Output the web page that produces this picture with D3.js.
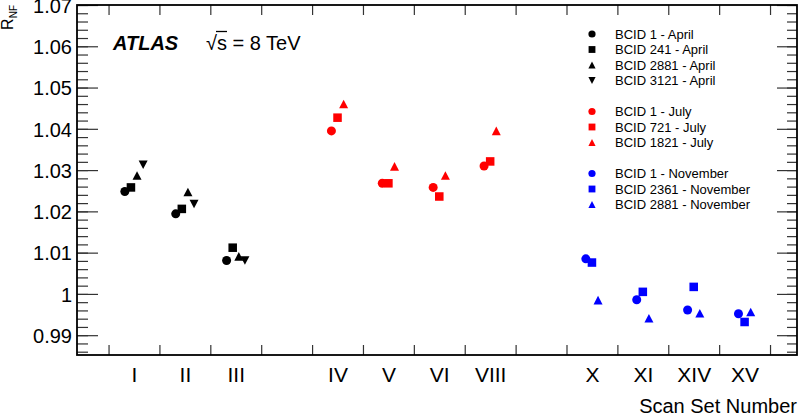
<!DOCTYPE html>
<html>
<head>
<meta charset="utf-8">
<script src="https://cdn.jsdelivr.net/npm/d3@7"></script>
<style>
  html, body { margin: 0; padding: 0; background: #fff; }
  svg text { font-family: "Liberation Sans", Arial, Helvetica, sans-serif; fill: #000; }
</style>
</head>
<body>
<div id="chart"></div>
<script>
"use strict";
// scan-set bins along x (empty strings are the gaps between the periods)
const scanSets = ["I", "II", "III", "", "IV", "V", "VI", "VIII", "", "X", "XI", "XIV", "XV"];
const aprilScans = ["I", "II", "III"];
const julyScans = ["IV", "V", "VI", "VIII"];
const novemberScans = ["X", "XI", "XIV", "XV"];

// R_NF per BCID
const bcid1April = [1.0248, 1.0194, 1.0081];
const bcid241April = [1.0258, 1.0206, 1.0112];
const bcid2881April = [1.0287, 1.0247, 1.0091];
const bcid3121April = [1.0313, 1.0218, 1.0081];

const bcid1July = [1.0395, 1.0268, 1.0258, 1.0310];
const bcid721July = [1.0427, 1.0268, 1.0236, 1.0321];
const bcid1821July = [1.0460, 1.0309, 1.0287, 1.0395];

const bcid1November = [1.0085, 0.9986, 0.9961, 0.9952];
const bcid2361November = [1.0076, 1.0005, 1.0017, 0.9932];
const bcid2881November = [0.9985, 0.9941, 0.9953, 0.9956];

const yTickValues = [0.99, 1.00, 1.01, 1.02, 1.03, 1.04, 1.05, 1.06, 1.07];

const aprilLabels = ["BCID 1 - April", "BCID 241 - April", "BCID 2881 - April", "BCID 3121 - April"];
const julyLabels = ["BCID 1 - July", "BCID 721 - July", "BCID 1821 - July"];
const novemberLabels = ["BCID 1 - November", "BCID 2361 - November", "BCID 2881 - November"];

const W = 803, H = 418;
const frame = { left: 77, right: 797, top: 5, bottom: 355 };
const font = "'Liberation Sans', Arial, Helvetica, sans-serif";

// ROOT-like markers, centred on their bounding box
const triUp = {
  draw(ctx, size) {
    const w = Math.sqrt(size) / 2, h = w * 0.95;
    ctx.moveTo(0, -h); ctx.lineTo(w, h); ctx.lineTo(-w, h); ctx.closePath();
  }
};
const triDown = {
  draw(ctx, size) {
    const w = Math.sqrt(size) / 2, h = w * 0.95;
    ctx.moveTo(0, h); ctx.lineTo(w, -h); ctx.lineTo(-w, -h); ctx.closePath();
  }
};
const shapes = {
  circle: { type: d3.symbolCircle, size: r => Math.PI * r * r / 4 },
  square: { type: d3.symbolSquare, size: r => r * r * 0.9 },
  up: { type: triUp, size: r => r * r },
  down: { type: triDown, size: r => r * r }
};

const periods = [
  { scans: aprilScans, color: "#000000", series: [
    { label: aprilLabels[0], values: bcid1April, shape: "circle" },
    { label: aprilLabels[1], values: bcid241April, shape: "square" },
    { label: aprilLabels[2], values: bcid2881April, shape: "up" },
    { label: aprilLabels[3], values: bcid3121April, shape: "down" }] },
  { scans: julyScans, color: "#ff0000", series: [
    { label: julyLabels[0], values: bcid1July, shape: "circle" },
    { label: julyLabels[1], values: bcid721July, shape: "square" },
    { label: julyLabels[2], values: bcid1821July, shape: "up" }] },
  { scans: novemberScans, color: "#0000ff", series: [
    { label: novemberLabels[0], values: bcid1November, shape: "circle" },
    { label: novemberLabels[1], values: bcid2361November, shape: "square" },
    { label: novemberLabels[2], values: bcid2881November, shape: "up" }] }
];

const x = d3.scaleLinear().domain([-0.62, 13.53]).range([frame.left, frame.right]);
const y = d3.scaleLinear().domain([0.9852, 1.07]).range([frame.bottom, frame.top]);
const binCenter = s => scanSets.indexOf(s) + 0.5;

const svg = d3.select("#chart").append("svg")
  .attr("width", W).attr("height", H)
  .style("display", "block");

const tickStroke = g => {
  g.select(".domain").remove();
  g.selectAll(".tick line").attr("stroke", "#333").attr("stroke-width", 1.2);
};

// y axis, left: major + minor ticks pointing inwards
const minorY = d3.range(0.986, 1.0701, 0.002);
svg.append("g").attr("transform", `translate(${frame.left},0)`)
  .call(d3.axisLeft(y).tickValues(minorY).tickSizeInner(-11).tickSizeOuter(0).tickFormat(""))
  .call(tickStroke);
svg.append("g").attr("transform", `translate(${frame.left},0)`)
  .call(d3.axisLeft(y).tickValues(yTickValues).tickSizeInner(-21).tickSizeOuter(0).tickPadding(5)
    .tickFormat(d => d3.format(".2f")(d).replace(/\.?0+$/, "")))
  .call(tickStroke)
  .call(g => g.selectAll("text").attr("font-size", 20).attr("font-family", font).attr("dy", "0.36em"));

// y axis, right
svg.append("g").attr("transform", `translate(${frame.right},0)`)
  .call(d3.axisRight(y).tickValues(minorY).tickSizeInner(-10).tickSizeOuter(0).tickFormat(""))
  .call(tickStroke);
svg.append("g").attr("transform", `translate(${frame.right},0)`)
  .call(d3.axisRight(y).tickValues(yTickValues).tickSizeInner(-20).tickSizeOuter(0).tickFormat(""))
  .call(tickStroke);

// x axis, bin edges
const binEdges = d3.range(0, scanSets.length + 1);
svg.append("g").attr("transform", `translate(0,${frame.bottom})`)
  .call(d3.axisBottom(x).tickValues(binEdges).tickSizeInner(-10).tickSizeOuter(0).tickFormat(""))
  .call(tickStroke);
svg.append("g").attr("transform", `translate(0,${frame.top})`)
  .call(d3.axisTop(x).tickValues(binEdges).tickSizeInner(-10).tickSizeOuter(0).tickFormat(""))
  .call(tickStroke);
// x labels at bin centres
const labelled = scanSets.filter(s => s !== "");
svg.append("g").attr("transform", `translate(0,${frame.bottom})`)
  .call(d3.axisBottom(x).tickValues(labelled.map(binCenter)).tickSize(0).tickPadding(12)
    .tickFormat(v => scanSets[Math.floor(v)]))
  .call(g => g.select(".domain").remove())
  .call(g => g.selectAll("text").attr("font-size", 21).attr("font-family", font));

// frame
svg.append("rect")
  .attr("x", frame.left).attr("y", frame.top)
  .attr("width", frame.right - frame.left).attr("height", frame.bottom - frame.top)
  .attr("fill", "none").attr("stroke", "#000").attr("stroke-width", 1.8);

// points
const markerSize = 9;
periods.forEach(p => {
  const n = p.series.length;
  p.series.forEach((s, i) => {
    const off = (i - (n - 1) / 2) * 0.12;
    const sym = shapes[s.shape];
    svg.append("g").selectAll("path")
      .data(s.values.map((v, k) => ({ scan: p.scans[k], v })))
      .join("path")
      .attr("transform", d => `translate(${x(binCenter(d.scan) + off)},${y(d.v)})`)
      .attr("d", d3.symbol().type(sym.type).size(sym.size(markerSize)))
      .attr("fill", p.color);
  });
});

// legend
const legendRows = [];
periods.forEach((p, pi) => {
  p.series.forEach(s => legendRows.push({ ...s, color: p.color }));
  if (pi < periods.length - 1) legendRows.push(null);
});
const legend = svg.append("g").attr("transform", "translate(592,34)");
legendRows.forEach((r, i) => {
  if (!r) return;
  const sym = shapes[r.shape];
  const row = legend.append("g").attr("transform", `translate(0,${i * 15.5})`);
  row.append("path")
    .attr("d", d3.symbol().type(sym.type).size(sym.size(7.2)))
    .attr("fill", r.color);
  row.append("text")
    .attr("x", 23).attr("dy", "0.36em")
    .attr("font-size", 13)
    .text(r.label);
});

// ATLAS label
svg.append("text")
  .attr("x", 113).attr("y", 49.5)
  .attr("font-size", 20).attr("font-weight", "bold").attr("font-style", "italic")
  .text("ATLAS");
const energy = svg.append("text")
  .attr("x", 206).attr("y", 49.5)
  .attr("font-size", 20)
  .text("\u221As = 8 TeV");
const sBox = energy.node().getExtentOfChar(1);
const rootBox = energy.node().getExtentOfChar(0);
svg.append("line")
  .attr("x1", rootBox.x + rootBox.width - 1).attr("x2", sBox.x + sBox.width)
  .attr("y1", 31.5).attr("y2", 31.5)
  .attr("stroke", "#000").attr("stroke-width", 1.3);

// axis titles
const yTitle = svg.append("text")
  .attr("transform", "translate(13,5) rotate(-90)")
  .attr("text-anchor", "end")
  .attr("font-size", 16);
yTitle.append("tspan").text("R");
yTitle.append("tspan").attr("font-size", 10).attr("dy", 4).text("NF");

svg.append("text")
  .attr("x", frame.right).attr("y", 413)
  .attr("text-anchor", "end")
  .attr("font-size", 20)
  .text("Scan Set Number");
</script>
</body>
</html>
